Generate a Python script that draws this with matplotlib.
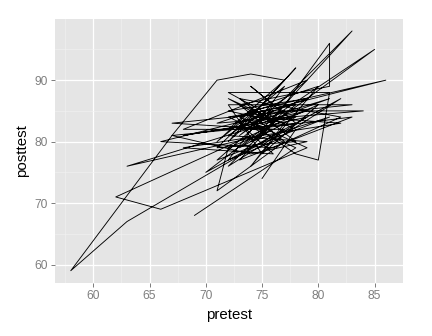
import matplotlib
matplotlib.use("Agg")
import matplotlib.pyplot as plt
import numpy as np

# pretest / posttest pairs, in the order the path visits them
pretest = [69, 78, 72, 78, 74, 81, 71, 76, 73, 79,
           68, 77, 63, 58, 67, 71, 74, 77, 72, 81,
           75, 68, 78, 73, 85, 76, 72, 81, 80, 78,
           74, 79, 63, 75, 81, 81, 73, 77, 71, 72,
           76, 67, 83, 72, 75, 80, 62, 66, 79, 73,
           86, 74, 71, 77, 72, 76, 82, 70, 75, 83,
           77, 72, 79, 74, 67, 78, 74, 76, 71, 84,
           75, 72, 78, 74, 82, 68, 76, 73, 79, 72,
           77, 74, 80, 75, 71, 78, 73, 82, 76, 66,
           77, 72, 79, 74, 83, 73, 76, 72, 78, 75]
posttest = [68, 79, 84, 86, 80, 84, 77, 85, 81, 90,
            82, 82, 67, 59, 81, 90, 91, 90, 82, 87,
            83, 81, 84, 79, 95, 84, 88, 88, 77, 78,
            83, 85, 76, 81, 96, 89, 86, 80, 72, 79,
            82, 83, 86, 86, 78, 86, 71, 69, 79, 84,
            90, 85, 80, 89, 77, 80, 87, 75, 82, 98,
            87, 81, 80, 78, 81, 83, 89, 86, 83, 85,
            85, 80, 92, 84, 83, 79, 78, 83, 87, 85,
            83, 76, 89, 86, 79, 80, 87, 84, 79, 80,
            85, 76, 84, 82, 84, 77, 83, 87, 82, 74]

xticks = [60, 65, 70, 75, 80, 85]
yticks = [60, 70, 80, 90]

fig = plt.figure(figsize=(6, 336 / 72), dpi=72)
ax = fig.add_axes([55 / 432, 1 - 282.7 / 336, (402.7 - 55) / 432, (282.7 - 19) / 336])
ax.set_facecolor("#E5E5E5")

ax.plot(pretest, posttest, color="black", linewidth=0.9, zorder=3)

ax.set_xlim(56.6, 87.4)
ax.set_ylim(57.05, 99.95)
ax.set_xticks(xticks)
ax.set_yticks(yticks)
ax.set_xticks([57.5, 62.5, 67.5, 72.5, 77.5, 82.5, 87.5], minor=True)
ax.set_yticks([65, 75, 85, 95], minor=True)
ax.grid(which="major", color="white", linewidth=1.3)
ax.grid(which="minor", color="#F2F2F2", linewidth=0.6)
ax.set_axisbelow(True)
for s in ax.spines.values():
    s.set_visible(False)

ax.tick_params(which="major", length=4, width=1, color="#7F7F7F",
               labelcolor="#7F7F7F", labelsize=12, pad=3,
               labelfontfamily="Liberation Sans")
ax.tick_params(which="minor", length=0)

ax.set_xlabel("pretest", fontsize=15, family="Liberation Sans", labelpad=6)
ax.set_ylabel("posttest", fontsize=15, family="Liberation Sans", labelpad=5)

fig.savefig("out.png", dpi=72)
